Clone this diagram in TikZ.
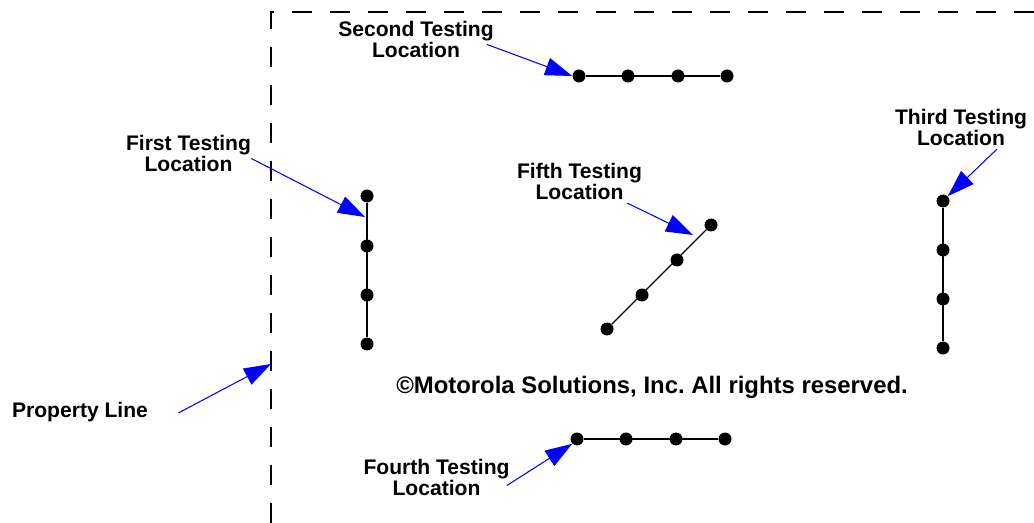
\documentclass[tikz,border=0pt]{standalone}
\usepackage{fontspec}
\setmainfont{Liberation Sans}
\usetikzlibrary{arrows.meta}

\begin{document}
\begin{tikzpicture}[
    x=0.02cm, y=-0.02cm,
    tag/.style={inner sep=0pt, font=\fontsize{12}{12}\selectfont\bfseries, align=center},
    dot/.style={circle, fill=black, inner sep=0pt, minimum size=0.26cm},
    run/.style={line width=1.1pt},
    pointer/.style={draw=blue, line width=0.6pt, -{Triangle[length=0.54cm, width=0.36cm]}},
]
    \useasboundingbox (0,0) rectangle (1034,523);

    % property line
    \draw[line width=1.1pt, dash pattern=on 0.4cm off 0.36cm] (1034,12) -- (271,12) -- (271,523);
    \coordinate (line-tip) at (271,364);
    \node[tag] (property) at (80,412) {Property Line};

    % first testing location
    \foreach \i/\y in {1/196, 2/246, 3/295, 4/344}
        \node[dot] (a\i) at (367,\y) {};
    \draw[run] (a1) -- (a4);
    \coordinate (a-tip) at (365,217);
    \node[tag] (first) at (188.5,153.5) {First Testing\\Location};

    % second testing location
    \foreach \i/\x in {1/579, 2/628, 3/678, 4/727}
        \node[dot] (b\i) at (\x,76) {};
    \draw[run] (b1) -- (b4);
    \node[tag] (second) at (416,39.5) {Second Testing\\Location};

    % third testing location
    \foreach \i/\y in {1/201, 2/250, 3/299, 4/348}
        \node[dot] (c\i) at (943,\y) {};
    \draw[run] (c1) -- (c4);
    \node[tag] (third) at (961,127.5) {Third Testing\\Location};

    % fourth testing location
    \foreach \i/\x in {1/577, 2/626, 3/676, 4/725}
        \node[dot] (d\i) at (\x,439) {};
    \draw[run] (d1) -- (d4);
    \node[tag] (fourth) at (436.5,477.5) {Fourth Testing\\Location};

    % fifth testing location
    \foreach \i/\x/\y in {1/607/329, 2/642/295, 3/677/260, 4/711/225}
        \node[dot] (e\i) at (\x,\y) {};
    \draw[line width=0.7pt] (e1) -- (e4);
    \coordinate (e-tip) at (693,235);
    \node[tag] (fifth) at (579.5,181.5) {Fifth Testing\\Location};

    \node[tag, font=\fontsize{13.6}{13.6}\selectfont\bfseries] (rights) at (652,387) {©Motorola Solutions, Inc.\ All rights reserved.};

    % pointers
    \draw[pointer] ([shift={(30,1)}]property.east) -- (line-tip);
    \draw[pointer] ([shift={(0,5)}]first.east) -- (a-tip);
    \draw[pointer] ([shift={(-7,5)}]second.east) -- (b1.west);
    \draw[pointer] ([shift={(36,3)}]third.south) -- (c1.north east);
    \draw[pointer] ([shift={(-3,8)}]fourth.east) -- (d1.south west);
    \draw[pointer] ([shift={(-15,3)}]fifth.south east) -- (e-tip);
\end{tikzpicture}
\end{document}
